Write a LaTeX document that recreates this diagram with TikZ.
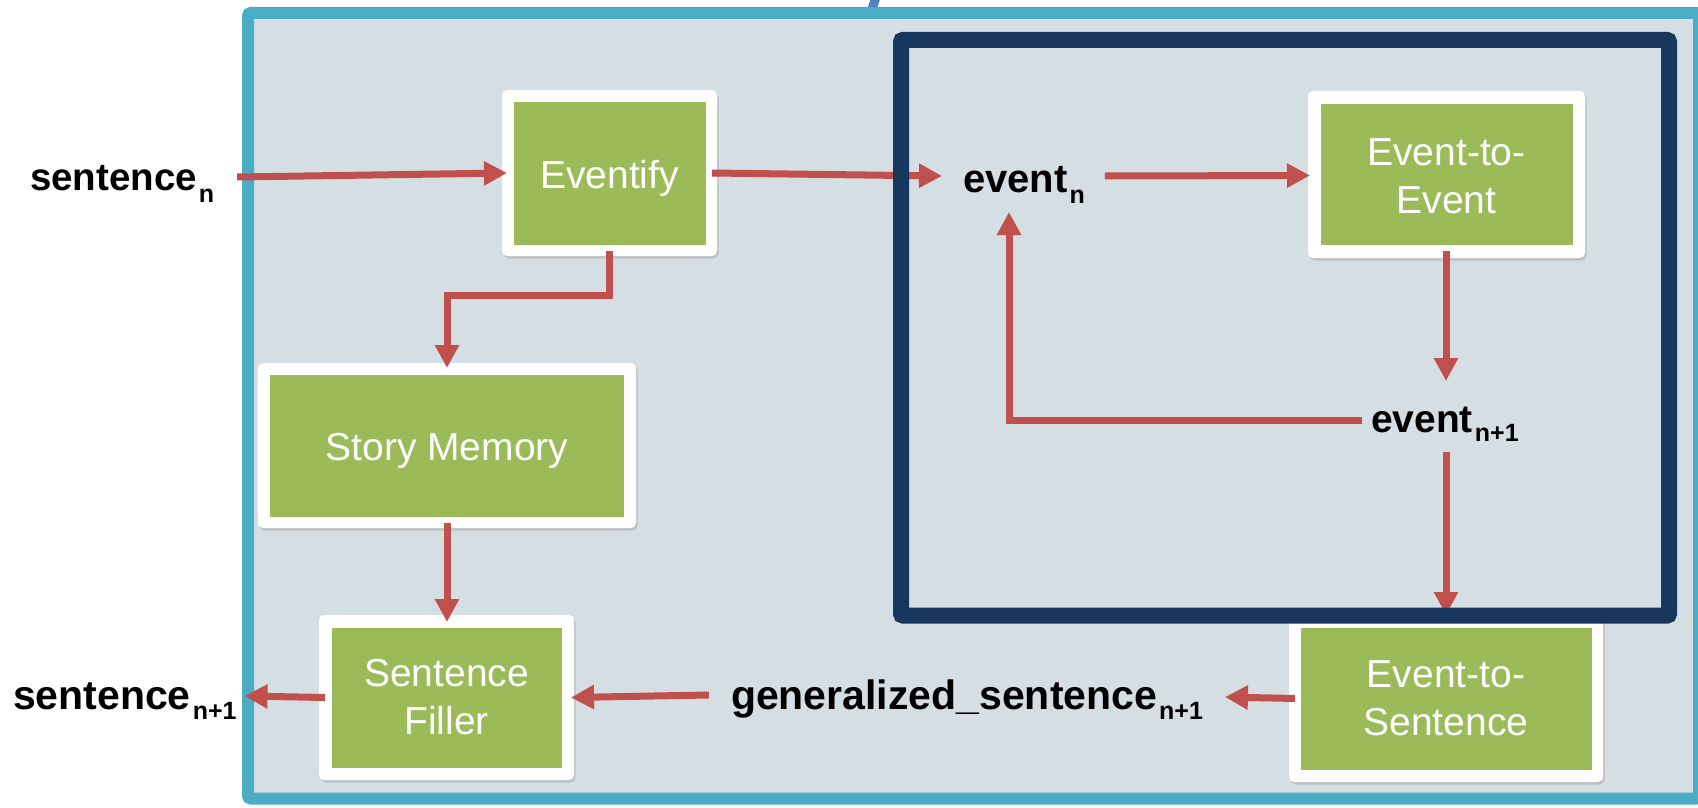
\documentclass[tikz,border=0pt]{standalone}
\usepackage{fontspec}
\setmainfont{Liberation Sans}
\usetikzlibrary{calc,arrows.meta,shadows}
\definecolor{frameteal}{RGB}{75,172,198}
\definecolor{panelgray}{RGB}{213,222,226}
\definecolor{navyframe}{RGB}{23,55,94}
\definecolor{boxgreen}{RGB}{155,187,89}
\definecolor{arrred}{RGB}{192,80,77}
\definecolor{slashblue}{RGB}{79,129,189}
\newcommand\lblfont[1]{\bfseries\fontsize{#1}{#1}\selectfont}
\newcommand\subsc[3]{\hspace{2pt}\raisebox{#1}{\fontsize{#2}{#2}\selectfont #3}}
\begin{document}
\begin{tikzpicture}[x=1pt,y=-1pt,
  outerbox/.style={fill=white, rounded corners=5pt, inner sep=0pt, outer sep=0pt,
    drop shadow={shadow xshift=1.5pt, shadow yshift=-2.5pt, opacity=0.3}},
  greenbox/.style={fill=boxgreen, inner sep=0pt},
  boxtext/.style={inner sep=0pt, text=white, align=center,
    font=\fontsize{39}{48}\selectfont},
  lbl/.style={inner sep=0pt, outer sep=0pt, anchor=base west},
  arr/.style={draw=arrred, line width=7pt, -{Triangle[length=23pt,width=23pt]}},
]
\useasboundingbox (0,0) rectangle (1698,808);
% slash and panel
\draw[slashblue, line width=9pt] (870,15) -- (876,-3);
\draw[frameteal, line width=12pt, fill=panelgray, rounded corners=3pt] (248,13) rectangle (1699,798.5);
% boxes
\node[outerbox, minimum width=215pt, minimum height=166pt] (eventify) at (609.5,173) {};
\node[greenbox, minimum width=192pt, minimum height=143pt] (eventifyg) at (eventify) {};
\node[boxtext] (eventifyt) at ($(eventify)+(0,5)$) {Eventify};
\node[outerbox, minimum width=378pt, minimum height=165pt] (sm) at (447,445.5) {};
\node[greenbox, minimum width=354pt, minimum height=142pt] (smg) at (sm) {};
\node[boxtext] (smt) at ($(sm)+(0,5)$) {Story Memory};
\node[outerbox, minimum width=255pt, minimum height=165pt] (sf) at (446.5,697.5) {};
\node[greenbox, minimum width=230pt, minimum height=140pt] (sfg) at (sf) {};
\node[boxtext] (sft) at (sf) {Sentence\\Filler};
\node[outerbox, minimum width=277pt, minimum height=167pt] (ete) at (1446.5,174.5) {};
\node[greenbox, minimum width=252pt, minimum height=141pt] (eteg) at (ete) {};
\node[boxtext] (etet) at ($(ete)+(0,2)$) {Event-to-\\Event};
\node[outerbox, minimum width=314pt, minimum height=167pt] (ets) at (1446,698.5) {};
\node[greenbox, minimum width=291pt, minimum height=142pt] (etsg) at (ets) {};
\node[boxtext] (etst) at (ets) {Event-to-\\Sentence};
% labels
\node[lbl, font=\lblfont{38.5}] (sn) at (30,190) {sentence\subsc{-12pt}{25}{n}};
\node[lbl, font=\lblfont{40}] (en) at (963,192) {event\subsc{-11pt}{25}{n}};
\node[lbl, font=\lblfont{39}] (en1) at (1371,432) {event\subsc{-9pt}{25}{n+1}};
\node[lbl, font=\lblfont{41}] (gs) at (731,709) {generalized\_sentence\subsc{-10pt}{25}{n+1}};
\node[lbl, font=\lblfont{41}] (sn1) at (13,709) {sentence\subsc{-10pt}{25}{n+1}};
% arrows
\draw[arr] ($(sn.base east)+(23,-13)$) -- ($(eventify.west)+(5,0)$);
\draw[arr] ($(eventify.east)+(-5,0)$) -- ($(en.base west)+(-21,-16)$);
\draw[arr] ($(en.base east)+(20,-16)$) -- ($(ete.west)+(2,1)$);
\draw[arr] ($(ete.south)+(-0.5,-7)$) -- ($(ete.south)+(-0.5,123)$);
\draw[arr] ($(en1.base west)+(-9,-12)$) -| ($(en.base west)+(46,20)$);
\draw[arr] ($(en1.base west)+(75,20)$) -- (ets.north);
\draw[arr] ($(ets.west)+(6,0)$) -- ($(gs.base east)+(22,-12)$);
\draw[arr] ($(gs.base west)+(-22,-14)$) -- ($(sf.east)+(-3,0)$);
\draw[arr] ($(sf.west)+(6,0)$) -- ($(sn1.base east)+(8,-13)$);
\draw[arr] ($(eventify.south)+(0,-5)$) -- ++(0,44) -| ($(sm.north)+(0,5)$);
\draw[arr] ($(sm.south)+(0,-5)$) -- ($(sf.north)+(0.5,7)$);
% navy frame
\draw[navyframe, line width=16pt, rounded corners=2pt] (901,40) rectangle (1669,615.5);
\end{tikzpicture}
\end{document}
